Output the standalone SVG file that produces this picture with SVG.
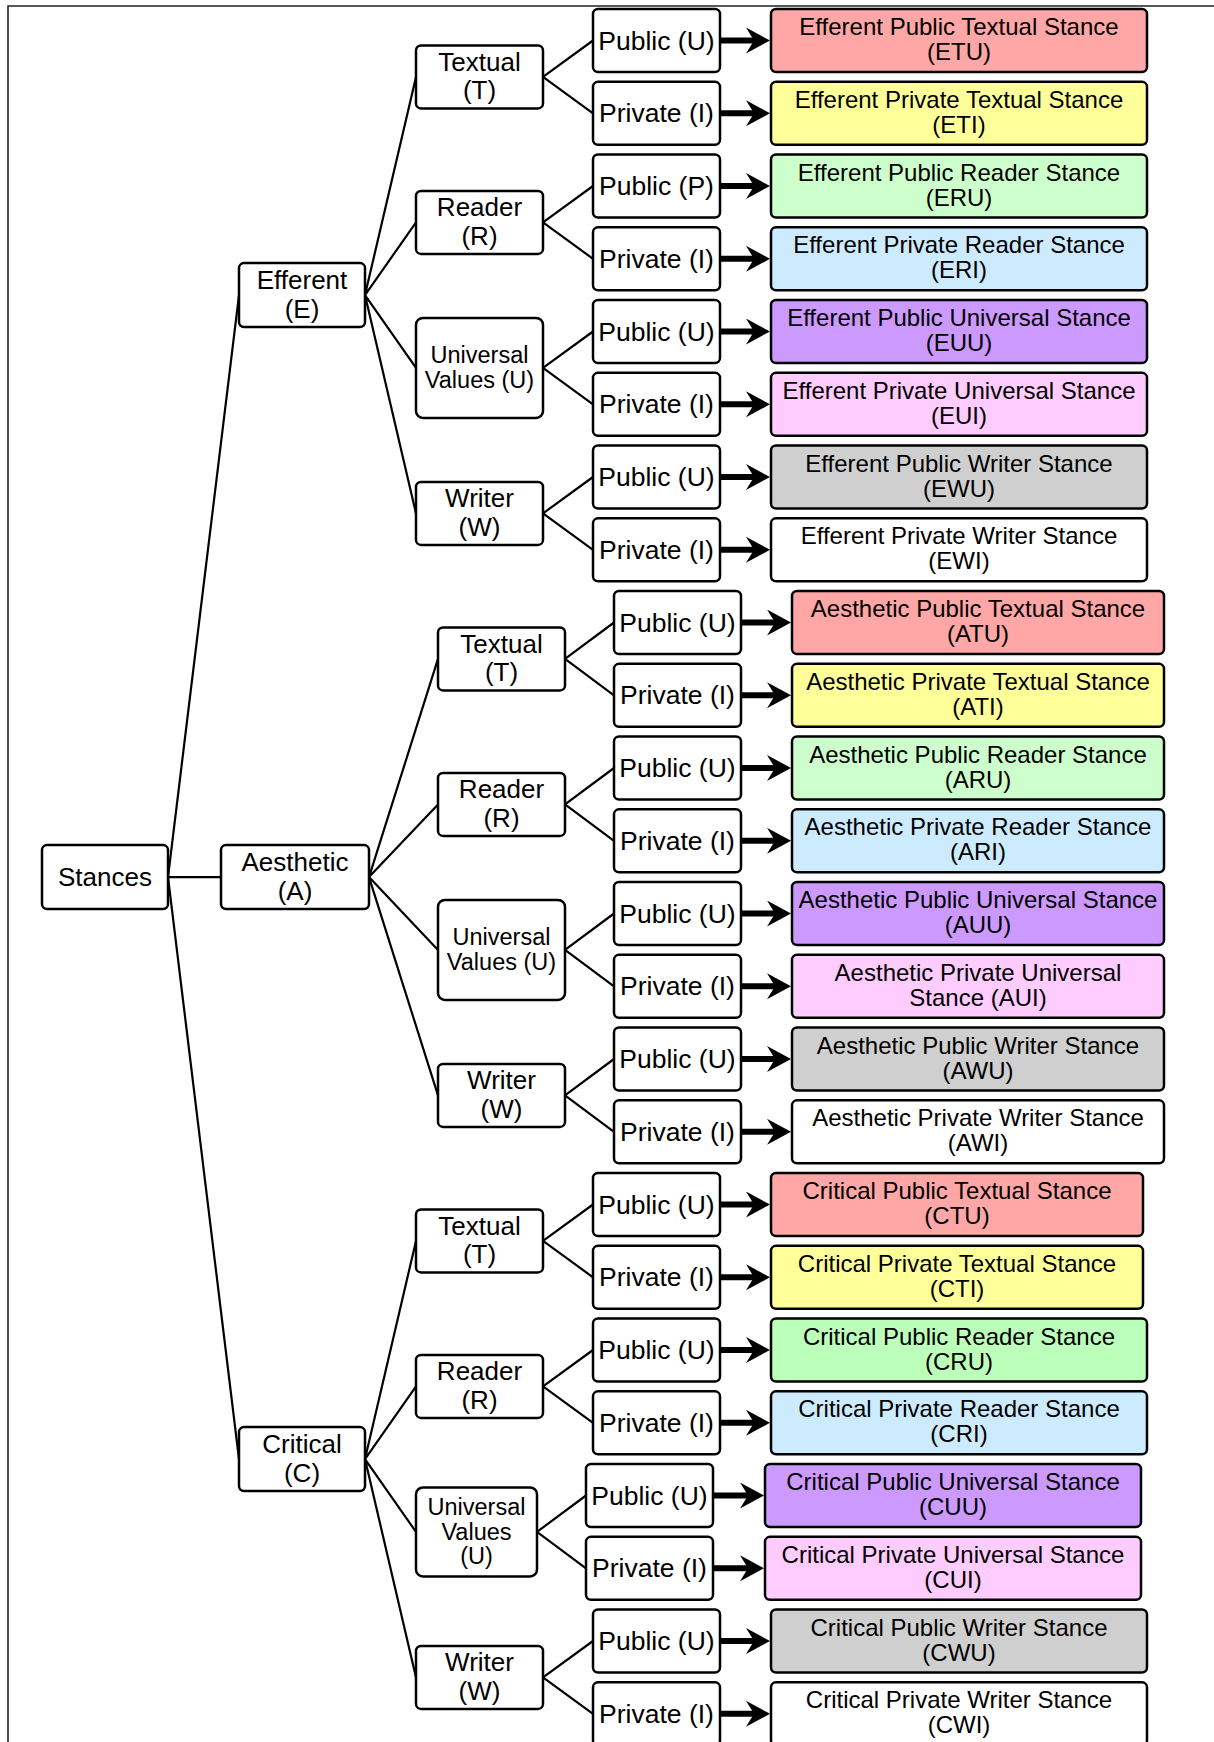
<svg xmlns="http://www.w3.org/2000/svg" width="1214" height="1742" viewBox="0 0 1214 1742">
<style>
.box{stroke:#000;stroke-width:2.5;fill:#fff}
.t{font-family:"Liberation Sans",Arial,sans-serif;text-anchor:middle;fill:#000}
.f26{font-size:26px}.f265{font-size:26.5px}.f235{font-size:23.5px}.f24{font-size:24px}
.c{fill:none;stroke:#000;stroke-width:2.2}
.a{fill:none;stroke:#000;stroke-width:6;marker-end:url(#ah)}
.red{fill:#FFA6A6}.yel{fill:#FFFF99}.grn{fill:#CCFFCC}.grn2{fill:#BBFFBB}.blu{fill:#CCEBFF}.pur{fill:#CC99FF}.pnk{fill:#FFCCFF}.gry{fill:#CFCFCF}
</style>
<defs>
<marker id="ah" markerUnits="userSpaceOnUse" markerWidth="26" markerHeight="28" refX="10" refY="13" orient="auto" viewBox="0 0 26 28">
<path d="M0,0 L24,13 L0,26 L8,13 Z" fill="#000"/>
</marker>
</defs>
<rect width="1214" height="1742" fill="#fff"/>
<path d="M8,1742 V6 H1214" fill="none" stroke="#222" stroke-width="1.6"/>

<g id="connectors">
<path class="c" d="M168,877.1 L239,295.1 M168,877.1 L221,877.1 M168,877.1 L239,1459.1"/>
<path class="c" d="M365,295.1 L416,76.9 M365,295.1 L416,222.4 M365,295.1 L416,367.9 M365,295.1 L416,513.4"/>
<path class="c" d="M369,877.1 L438,658.9 M369,877.1 L438,804.4 M369,877.1 L438,949.9 M369,877.1 L438,1095.4"/>
<path class="c" d="M365,1459.1 L416,1240.9 M365,1459.1 L416,1386.4 M365,1459.1 L416,1531.9 M365,1459.1 L416,1677.4"/>
<path class="c" d="M543,76.9 L593,40.5 M543,76.9 L593,113.3 M543,222.4 L593,186 M543,222.4 L593,258.8 M543,367.9 L593,331.5 M543,367.9 L593,404.3 M543,513.4 L593,477 M543,513.4 L593,549.8"/>
<path class="c" d="M565,658.9 L614,622.5 M565,658.9 L614,695.3 M565,804.4 L614,768 M565,804.4 L614,840.8 M565,949.9 L614,913.5 M565,949.9 L614,986.3 M565,1095.4 L614,1059 M565,1095.4 L614,1131.8"/>
<path class="c" d="M543,1240.9 L593,1204.5 M543,1240.9 L593,1277.3 M543,1386.4 L593,1350 M543,1386.4 L593,1422.8 M537,1531.9 L586,1495.5 M537,1531.9 L586,1568.3 M543,1677.4 L593,1641 M543,1677.4 L593,1713.8"/>
<path class="a" d="M721,40.5 H756"/><path class="a" d="M721,113.3 H756"/><path class="a" d="M721,186 H756"/><path class="a" d="M721,258.8 H756"/>
<path class="a" d="M721,331.5 H756"/><path class="a" d="M721,404.3 H756"/><path class="a" d="M721,477 H756"/><path class="a" d="M721,549.8 H756"/>
<path class="a" d="M742,622.5 H777"/><path class="a" d="M742,695.3 H777"/><path class="a" d="M742,768 H777"/><path class="a" d="M742,840.8 H777"/>
<path class="a" d="M742,913.5 H777"/><path class="a" d="M742,986.3 H777"/><path class="a" d="M742,1059 H777"/><path class="a" d="M742,1131.8 H777"/>
<path class="a" d="M721,1204.5 H756"/><path class="a" d="M721,1277.3 H756"/><path class="a" d="M721,1350 H756"/><path class="a" d="M721,1422.8 H756"/>
<path class="a" d="M714,1495.5 H750"/><path class="a" d="M714,1568.3 H750"/><path class="a" d="M721,1641 H756"/><path class="a" d="M721,1713.8 H756"/>
</g>

<g id="stances"><rect class="box" x="42" y="845.1" width="126" height="64" rx="5"/><text class="t f26" x="105" y="886">Stances</text></g>

<g id="efferent"><rect class="box" x="239" y="263.1" width="126" height="64" rx="5"/><text class="t f26" x="302" y="289.1">Efferent</text><text class="t f26" x="302" y="317.6">(E)</text></g>
<g id="aesthetic"><rect class="box" x="221" y="845.1" width="148" height="64" rx="5"/><text class="t f26" x="295" y="871.1">Aesthetic</text><text class="t f26" x="295" y="899.6">(A)</text></g>
<g id="critical"><rect class="box" x="239" y="1427.1" width="126" height="64" rx="5"/><text class="t f26" x="302" y="1453.1">Critical</text><text class="t f26" x="302" y="1481.6">(C)</text></g>

<g id="e-textual"><rect class="box" x="416" y="45.4" width="127" height="63" rx="5"/><text class="t f26" x="479.5" y="70.9">Textual</text><text class="t f26" x="479.5" y="99.4">(T)</text></g>
<g id="e-reader"><rect class="box" x="416" y="190.9" width="127" height="63" rx="5"/><text class="t f26" x="479.5" y="216.4">Reader</text><text class="t f26" x="479.5" y="244.9">(R)</text></g>
<g id="e-universal"><rect class="box" x="416" y="317.9" width="127" height="100" rx="7"/><text class="t f235" x="479.5" y="363.2">Universal</text><text class="t f235" x="479.5" y="388.2">Values (U)</text></g>
<g id="e-writer"><rect class="box" x="416" y="481.9" width="127" height="63" rx="5"/><text class="t f26" x="479.5" y="507.4">Writer</text><text class="t f26" x="479.5" y="535.9">(W)</text></g>

<g id="a-textual"><rect class="box" x="438" y="627.4" width="127" height="63" rx="5"/><text class="t f26" x="501.5" y="652.9">Textual</text><text class="t f26" x="501.5" y="681.4">(T)</text></g>
<g id="a-reader"><rect class="box" x="438" y="772.9" width="127" height="63" rx="5"/><text class="t f26" x="501.5" y="798.4">Reader</text><text class="t f26" x="501.5" y="826.9">(R)</text></g>
<g id="a-universal"><rect class="box" x="438" y="899.9" width="127" height="100" rx="7"/><text class="t f235" x="501.5" y="945.2">Universal</text><text class="t f235" x="501.5" y="970.2">Values (U)</text></g>
<g id="a-writer"><rect class="box" x="438" y="1063.9" width="127" height="63" rx="5"/><text class="t f26" x="501.5" y="1089.4">Writer</text><text class="t f26" x="501.5" y="1117.9">(W)</text></g>

<g id="c-textual"><rect class="box" x="416" y="1209.4" width="127" height="63" rx="5"/><text class="t f26" x="479.5" y="1234.9">Textual</text><text class="t f26" x="479.5" y="1263.4">(T)</text></g>
<g id="c-reader"><rect class="box" x="416" y="1354.9" width="127" height="63" rx="5"/><text class="t f26" x="479.5" y="1380.4">Reader</text><text class="t f26" x="479.5" y="1408.9">(R)</text></g>
<g id="c-universal"><rect class="box" x="416" y="1487.4" width="121" height="89" rx="7"/><text class="t f235" x="476.5" y="1515.4">Universal</text><text class="t f235" x="476.5" y="1539.9">Values</text><text class="t f235" x="476.5" y="1564.4">(U)</text></g>
<g id="c-writer"><rect class="box" x="416" y="1645.9" width="127" height="63" rx="5"/><text class="t f26" x="479.5" y="1671.4">Writer</text><text class="t f26" x="479.5" y="1699.9">(W)</text></g>

<g id="etu-pub"><rect class="box" x="593" y="9" width="127" height="63" rx="5"/><text class="t f265" x="656.5" y="49.5">Public (U)</text></g>
<g id="eti-priv"><rect class="box" x="593" y="81.8" width="127" height="63" rx="5"/><text class="t f265" x="656.5" y="122.3">Private (I)</text></g>
<g id="eru-pub"><rect class="box" x="593" y="154.5" width="127" height="63" rx="5"/><text class="t f265" x="656.5" y="195">Public (P)</text></g>
<g id="eri-priv"><rect class="box" x="593" y="227.3" width="127" height="63" rx="5"/><text class="t f265" x="656.5" y="267.8">Private (I)</text></g>
<g id="euu-pub"><rect class="box" x="593" y="300" width="127" height="63" rx="5"/><text class="t f265" x="656.5" y="340.5">Public (U)</text></g>
<g id="eui-priv"><rect class="box" x="593" y="372.8" width="127" height="63" rx="5"/><text class="t f265" x="656.5" y="413.3">Private (I)</text></g>
<g id="ewu-pub"><rect class="box" x="593" y="445.5" width="127" height="63" rx="5"/><text class="t f265" x="656.5" y="486">Public (U)</text></g>
<g id="ewi-priv"><rect class="box" x="593" y="518.3" width="127" height="63" rx="5"/><text class="t f265" x="656.5" y="558.8">Private (I)</text></g>

<g id="atu-pub"><rect class="box" x="614" y="591" width="127" height="63" rx="5"/><text class="t f265" x="677.5" y="631.5">Public (U)</text></g>
<g id="ati-priv"><rect class="box" x="614" y="663.8" width="127" height="63" rx="5"/><text class="t f265" x="677.5" y="704.3">Private (I)</text></g>
<g id="aru-pub"><rect class="box" x="614" y="736.5" width="127" height="63" rx="5"/><text class="t f265" x="677.5" y="777">Public (U)</text></g>
<g id="ari-priv"><rect class="box" x="614" y="809.3" width="127" height="63" rx="5"/><text class="t f265" x="677.5" y="849.8">Private (I)</text></g>
<g id="auu-pub"><rect class="box" x="614" y="882" width="127" height="63" rx="5"/><text class="t f265" x="677.5" y="922.5">Public (U)</text></g>
<g id="aui-priv"><rect class="box" x="614" y="954.8" width="127" height="63" rx="5"/><text class="t f265" x="677.5" y="995.3">Private (I)</text></g>
<g id="awu-pub"><rect class="box" x="614" y="1027.5" width="127" height="63" rx="5"/><text class="t f265" x="677.5" y="1068">Public (U)</text></g>
<g id="awi-priv"><rect class="box" x="614" y="1100.3" width="127" height="63" rx="5"/><text class="t f265" x="677.5" y="1140.8">Private (I)</text></g>

<g id="ctu-pub"><rect class="box" x="593" y="1173" width="127" height="63" rx="5"/><text class="t f265" x="656.5" y="1213.5">Public (U)</text></g>
<g id="cti-priv"><rect class="box" x="593" y="1245.8" width="127" height="63" rx="5"/><text class="t f265" x="656.5" y="1286.3">Private (I)</text></g>
<g id="cru-pub"><rect class="box" x="593" y="1318.5" width="127" height="63" rx="5"/><text class="t f265" x="656.5" y="1359">Public (U)</text></g>
<g id="cri-priv"><rect class="box" x="593" y="1391.3" width="127" height="63" rx="5"/><text class="t f265" x="656.5" y="1431.8">Private (I)</text></g>
<g id="cuu-pub"><rect class="box" x="586" y="1464" width="127" height="63" rx="5"/><text class="t f265" x="649.5" y="1504.5">Public (U)</text></g>
<g id="cui-priv"><rect class="box" x="586" y="1536.8" width="127" height="63" rx="5"/><text class="t f265" x="649.5" y="1577.3">Private (I)</text></g>
<g id="cwu-pub"><rect class="box" x="593" y="1609.5" width="127" height="63" rx="5"/><text class="t f265" x="656.5" y="1650">Public (U)</text></g>
<g id="cwi-priv"><rect class="box" x="593" y="1682.3" width="127" height="63" rx="5"/><text class="t f265" x="656.5" y="1722.8">Private (I)</text></g>

<g id="etu"><rect class="box red" x="771" y="9" width="376" height="63" rx="5"/><text class="t f24" x="959" y="35">Efferent Public Textual Stance</text><text class="t f24" x="959" y="60">(ETU)</text></g>
<g id="eti"><rect class="box yel" x="771" y="81.8" width="376" height="63" rx="5"/><text class="t f24" x="959" y="107.8">Efferent Private Textual Stance</text><text class="t f24" x="959" y="132.8">(ETI)</text></g>
<g id="eru"><rect class="box grn" x="771" y="154.5" width="376" height="63" rx="5"/><text class="t f24" x="959" y="180.5">Efferent Public Reader Stance</text><text class="t f24" x="959" y="205.5">(ERU)</text></g>
<g id="eri"><rect class="box blu" x="771" y="227.3" width="376" height="63" rx="5"/><text class="t f24" x="959" y="253.3">Efferent Private Reader Stance</text><text class="t f24" x="959" y="278.3">(ERI)</text></g>
<g id="euu"><rect class="box pur" x="771" y="300" width="376" height="63" rx="5"/><text class="t f24" x="959" y="326">Efferent Public Universal Stance</text><text class="t f24" x="959" y="351">(EUU)</text></g>
<g id="eui"><rect class="box pnk" x="771" y="372.8" width="376" height="63" rx="5"/><text class="t f24" x="959" y="398.8">Efferent Private Universal Stance</text><text class="t f24" x="959" y="423.8">(EUI)</text></g>
<g id="ewu"><rect class="box gry" x="771" y="445.5" width="376" height="63" rx="5"/><text class="t f24" x="959" y="471.5">Efferent Public Writer Stance</text><text class="t f24" x="959" y="496.5">(EWU)</text></g>
<g id="ewi"><rect class="box" x="771" y="518.3" width="376" height="63" rx="5"/><text class="t f24" x="959" y="544.3">Efferent Private Writer Stance</text><text class="t f24" x="959" y="569.3">(EWI)</text></g>

<g id="atu"><rect class="box red" x="792" y="591" width="372" height="63" rx="5"/><text class="t f24" x="978" y="617">Aesthetic Public Textual Stance</text><text class="t f24" x="978" y="642">(ATU)</text></g>
<g id="ati"><rect class="box yel" x="792" y="663.8" width="372" height="63" rx="5"/><text class="t f24" x="978" y="689.8">Aesthetic Private Textual Stance</text><text class="t f24" x="978" y="714.8">(ATI)</text></g>
<g id="aru"><rect class="box grn" x="792" y="736.5" width="372" height="63" rx="5"/><text class="t f24" x="978" y="762.5">Aesthetic Public Reader Stance</text><text class="t f24" x="978" y="787.5">(ARU)</text></g>
<g id="ari"><rect class="box blu" x="792" y="809.3" width="372" height="63" rx="5"/><text class="t f24" x="978" y="835.3">Aesthetic Private Reader Stance</text><text class="t f24" x="978" y="860.3">(ARI)</text></g>
<g id="auu"><rect class="box pur" x="792" y="882" width="372" height="63" rx="5"/><text class="t f24" x="978" y="908">Aesthetic Public Universal Stance</text><text class="t f24" x="978" y="933">(AUU)</text></g>
<g id="aui"><rect class="box pnk" x="792" y="954.8" width="372" height="63" rx="5"/><text class="t f24" x="978" y="980.8">Aesthetic Private Universal</text><text class="t f24" x="978" y="1005.8">Stance (AUI)</text></g>
<g id="awu"><rect class="box gry" x="792" y="1027.5" width="372" height="63" rx="5"/><text class="t f24" x="978" y="1053.5">Aesthetic Public Writer Stance</text><text class="t f24" x="978" y="1078.5">(AWU)</text></g>
<g id="awi"><rect class="box" x="792" y="1100.3" width="372" height="63" rx="5"/><text class="t f24" x="978" y="1126.3">Aesthetic Private Writer Stance</text><text class="t f24" x="978" y="1151.3">(AWI)</text></g>

<g id="ctu"><rect class="box red" x="771" y="1173" width="372" height="63" rx="5"/><text class="t f24" x="957" y="1199">Critical Public Textual Stance</text><text class="t f24" x="957" y="1224">(CTU)</text></g>
<g id="cti"><rect class="box yel" x="771" y="1245.8" width="372" height="63" rx="5"/><text class="t f24" x="957" y="1271.8">Critical Private Textual Stance</text><text class="t f24" x="957" y="1296.8">(CTI)</text></g>
<g id="cru"><rect class="box grn2" x="771" y="1318.5" width="376" height="63" rx="5"/><text class="t f24" x="959" y="1344.5">Critical Public Reader Stance</text><text class="t f24" x="959" y="1369.5">(CRU)</text></g>
<g id="cri"><rect class="box blu" x="771" y="1391.3" width="376" height="63" rx="5"/><text class="t f24" x="959" y="1417.3">Critical Private Reader Stance</text><text class="t f24" x="959" y="1442.3">(CRI)</text></g>
<g id="cuu"><rect class="box pur" x="765" y="1464" width="376" height="63" rx="5"/><text class="t f24" x="953" y="1490">Critical Public Universal Stance</text><text class="t f24" x="953" y="1515">(CUU)</text></g>
<g id="cui"><rect class="box pnk" x="765" y="1536.8" width="376" height="63" rx="5"/><text class="t f24" x="953" y="1562.8">Critical Private Universal Stance</text><text class="t f24" x="953" y="1587.8">(CUI)</text></g>
<g id="cwu"><rect class="box gry" x="771" y="1609.5" width="376" height="63" rx="5"/><text class="t f24" x="959" y="1635.5">Critical Public Writer Stance</text><text class="t f24" x="959" y="1660.5">(CWU)</text></g>
<g id="cwi"><rect class="box" x="771" y="1682.3" width="376" height="63" rx="5"/><text class="t f24" x="959" y="1708.3">Critical Private Writer Stance</text><text class="t f24" x="959" y="1733.3">(CWI)</text></g>
</svg>
